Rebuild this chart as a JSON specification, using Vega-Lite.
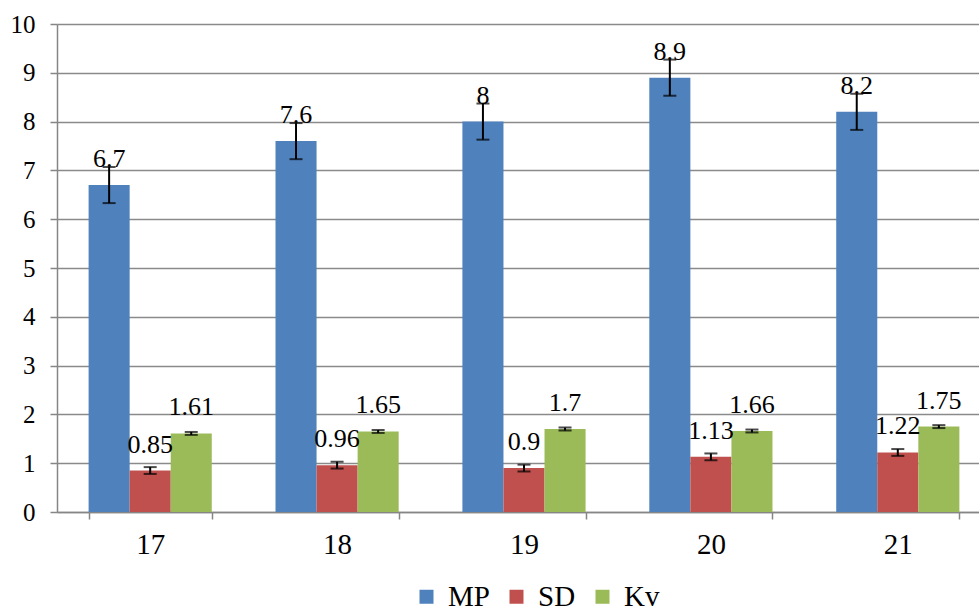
{
  "$schema": "https://vega.github.io/schema/vega-lite/v6.json",
  "width": 922,
  "height": 488,
  "autosize": {"type": "none"},
  "padding": {"left": 57, "top": 24, "right": 0, "bottom": 95},
  "background": "white",
  "config": {
    "view": {"stroke": null},
    "font": "Liberation Serif",
    "axis": {"labelFont": "Liberation Serif"},
    "legend": {"labelFont": "Liberation Serif"},
    "text": {"font": "Liberation Serif"}
  },
  "data": {
    "values": [
      {"g": "17", "s": "MP", "v": 6.7, "lo": 6.33, "hi": 7.07, "lab": "6.7"},
      {"g": "17", "s": "SD", "v": 0.85, "lo": 0.78, "hi": 0.92, "lab": "0.85"},
      {"g": "17", "s": "Kv", "v": 1.61, "lo": 1.58, "hi": 1.64, "lab": "1.61"},
      {"g": "18", "s": "MP", "v": 7.6, "lo": 7.23, "hi": 7.97, "lab": "7.6"},
      {"g": "18", "s": "SD", "v": 0.96, "lo": 0.89, "hi": 1.03, "lab": "0.96"},
      {"g": "18", "s": "Kv", "v": 1.65, "lo": 1.62, "hi": 1.68, "lab": "1.65"},
      {"g": "19", "s": "MP", "v": 8, "lo": 7.63, "hi": 8.37, "lab": "8"},
      {"g": "19", "s": "SD", "v": 0.9, "lo": 0.83, "hi": 0.97, "lab": "0.9"},
      {"g": "19", "s": "Kv", "v": 1.7, "lo": 1.67, "hi": 1.73, "lab": "1.7"},
      {"g": "20", "s": "MP", "v": 8.9, "lo": 8.53, "hi": 9.27, "lab": "8.9"},
      {"g": "20", "s": "SD", "v": 1.13, "lo": 1.06, "hi": 1.2, "lab": "1.13"},
      {"g": "20", "s": "Kv", "v": 1.66, "lo": 1.63, "hi": 1.69, "lab": "1.66"},
      {"g": "21", "s": "MP", "v": 8.2, "lo": 7.83, "hi": 8.57, "lab": "8.2"},
      {"g": "21", "s": "SD", "v": 1.22, "lo": 1.15, "hi": 1.29, "lab": "1.22"},
      {"g": "21", "s": "Kv", "v": 1.75, "lo": 1.72, "hi": 1.78, "lab": "1.75"}
    ]
  },
  "encoding": {
    "x": {
      "field": "g",
      "type": "nominal",
      "scale": {"paddingInner": 0.341, "paddingOuter": 0.137, "align": 0.617},
      "axis": {
        "title": null,
        "labelAngle": 0,
        "labelFont": "Liberation Serif",
        "labelFontSize": 29,
        "labelColor": "black",
        "labelBaseline": "alphabetic",
        "labelPadding": 34,
        "tickSize": 7,
        "tickBand": "extent",
        "tickColor": "#868686",
        "tickWidth": 1.5,
        "domainColor": "#868686",
        "domainWidth": 1.5,
        "grid": false
      }
    },
    "xOffset": {"field": "s", "type": "nominal", "scale": {"domain": ["MP", "SD", "Kv"], "paddingInner": 0, "paddingOuter": 0}}
  },
  "layer": [
    {
      "mark": {"type": "bar"},
      "encoding": {
        "y": {
          "field": "v",
          "type": "quantitative",
          "scale": {"domain": [0, 10], "nice": false},
          "axis": {
            "title": null,
            "values": [0, 1, 2, 3, 4, 5, 6, 7, 8, 9, 10],
            "labelFont": "Liberation Serif",
            "labelFontSize": 25,
            "labelColor": "black",
            "labelPadding": 15,
            "tickSize": 7,
            "tickColor": "#868686",
            "tickWidth": 1.5,
            "domainColor": "#868686",
            "domainWidth": 1.5,
            "grid": true,
            "gridColor": "#8a8a8a",
            "gridWidth": 1.5
          }
        },
        "color": {
          "field": "s",
          "type": "nominal",
          "scale": {"domain": ["MP", "SD", "Kv"], "range": ["#4F81BD", "#C0504D", "#9BBB59"]},
          "legend": {
            "title": null,
            "orient": "none",
            "direction": "horizontal",
            "legendX": 355,
            "legendY": 558,
            "padding": 0,
            "symbolType": "square",
            "symbolSize": 196,
            "symbolStrokeWidth": 0,
            "labelFont": "Liberation Serif",
            "labelFontSize": 29,
            "labelColor": "black",
            "labelOffset": 7,
            "columnPadding": 12
          }
        }
      }
    },
    {
      "mark": {"type": "rule", "color": "black", "strokeWidth": 2},
      "encoding": {
        "y": {"field": "lo", "type": "quantitative"},
        "y2": {"field": "hi"}
      }
    },
    {
      "mark": {"type": "tick", "color": "black", "thickness": 2, "size": 13, "orient": "horizontal"},
      "encoding": {
        "y": {"field": "lo", "type": "quantitative"}
      }
    },
    {
      "mark": {"type": "tick", "color": "black", "thickness": 2, "size": 13, "orient": "horizontal"},
      "encoding": {
        "y": {"field": "hi", "type": "quantitative"}
      }
    },
    {
      "mark": {"type": "text", "baseline": "alphabetic", "dy": -18, "fontSize": 26, "font": "Liberation Serif", "color": "black"},
      "encoding": {
        "y": {"field": "v", "type": "quantitative"},
        "text": {"field": "lab", "type": "nominal"}
      }
    }
  ]
}
